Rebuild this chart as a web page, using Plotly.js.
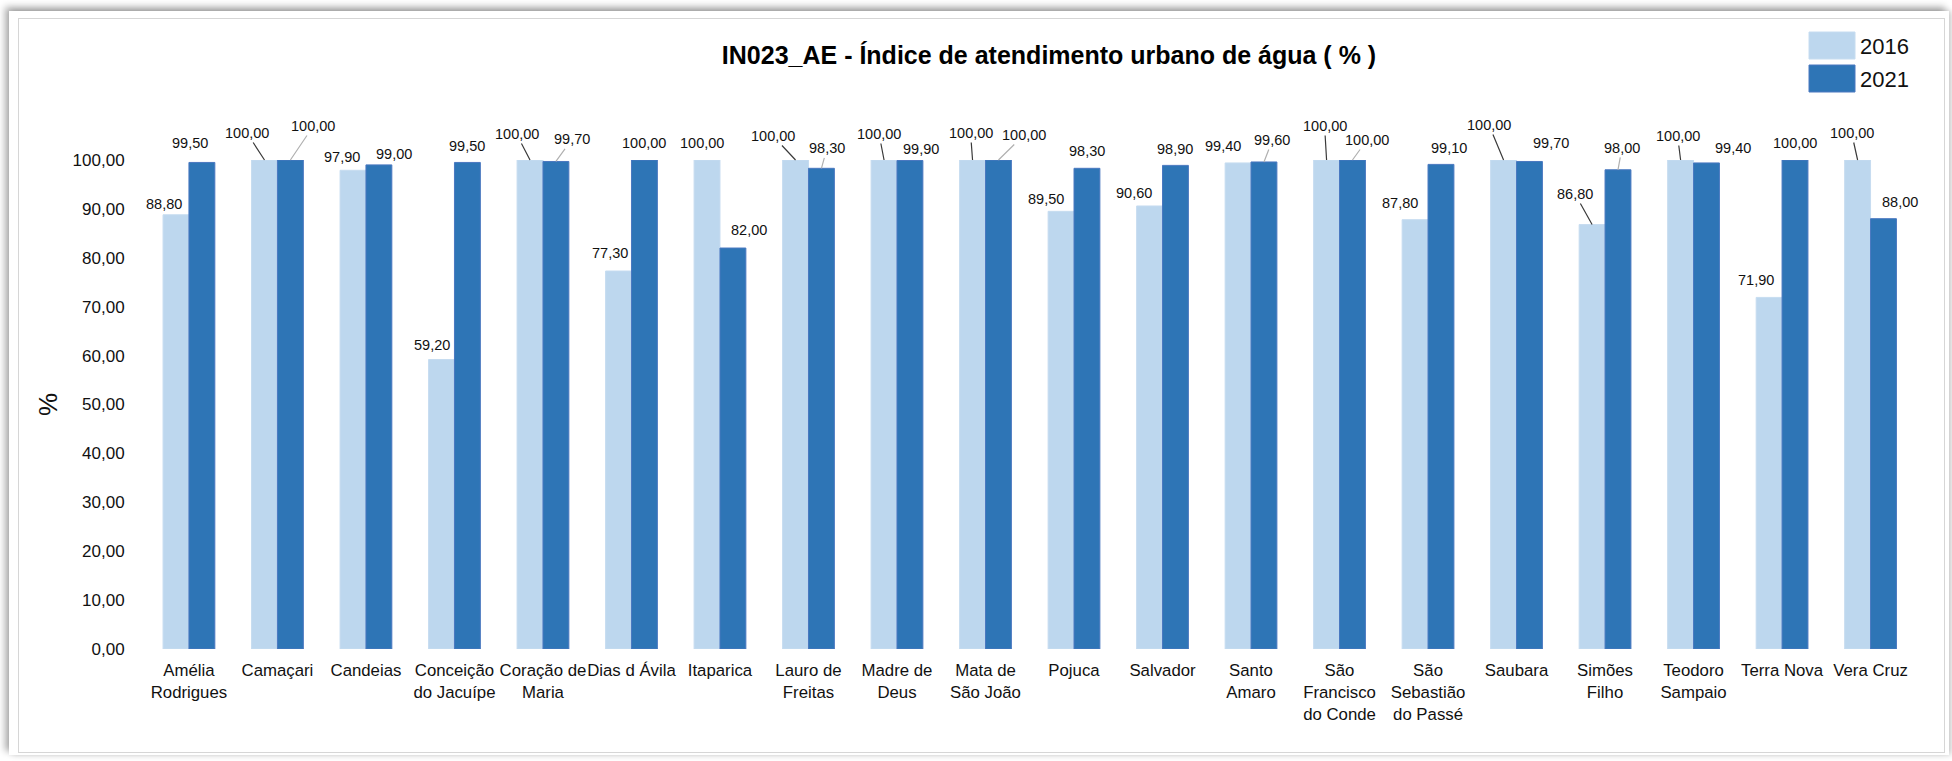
<!DOCTYPE html>
<html>
<head>
<meta charset="utf-8">
<script src="https://cdn.plot.ly/plotly-3.0.1.min.js"></script>
<style>
  html, body { margin: 0; padding: 0; background: #ffffff; width: 1952px; height: 761px; overflow: hidden; }
  #frame { position: absolute; left: 9px; top: 11px; width: 1940px; height: 744px; background: #ffffff;
           box-shadow: -4px -4px 7px rgba(0,0,0,0.32), 3px 0px 6px rgba(0,0,0,0.18); }
  #chart { position: absolute; left: 18px; top: 18px; width: 1925px; height: 733px; border: 1px solid #d6d6d6; background: #fff; }
</style>
</head>
<body>
<div id="frame"></div>
<div id="chart"></div>
<script>
// ---------- data ----------
const categories = [
  "Amélia<br>Rodrigues", "Camaçari", "Candeias", "Conceição<br>do Jacuípe", "Coração de<br>Maria",
  "Dias d Ávila", "Itaparica", "Lauro de<br>Freitas", "Madre de<br>Deus", "Mata de<br>São João",
  "Pojuca", "Salvador", "Santo<br>Amaro", "São<br>Francisco<br>do Conde", "São<br>Sebastião<br>do Passé",
  "Saubara", "Simões<br>Filho", "Teodoro<br>Sampaio", "Terra Nova", "Vera Cruz"
];
const values2016 = [88.8, 100, 97.9, 59.2, 100, 77.3, 100, 100, 100, 100, 89.5, 90.6, 99.4, 100, 87.8, 100, 86.8, 100, 71.9, 100];
const values2021 = [99.5, 100, 99.0, 99.5, 99.7, 100, 82.0, 98.3, 99.9, 100, 98.3, 98.9, 99.6, 100, 99.1, 99.7, 98.0, 99.4, 100, 88.0];
const seriesNames = ["2016", "2021"];
const yTickValues = [0, 10, 20, 30, 40, 50, 60, 70, 80, 90, 100];
const chartTitle = "IN023_AE - Índice de atendimento urbano de água ( % )";
const yTitle = "%";

// ---------- label placement (pixel offsets of each data label from its bar top) ----------
const lblDx2016 = [-12, -17.5, -11, -9.5, -13.5, -9, -5.5, -22.5, -5, -2, -15.5, -15.7, -15, -2, -15, -14.6, -17, -3, -13.6, -6];
const lblDy2016 = [-11, -27, -13, -14.5, -26, -18, -17, -24, -26, -27, -12, -13, -17, -34, -17, -35, -30.5, -24, -17, -27];
const lead2016  = [0, 1, 0, 0, 1, 0, 0, 1, 1, 1, 0, 0, 0, 1, 0, 1, 1, 1, 0, 1];
const lblDx2021 = [-12, 23, 15, 0, 16, 0, 16, 5.5, 11, 25.5, 0, 0, 8.5, 14.5, 8, 21.5, 4, 27, 0, 16.5];
const lblDy2021 = [-19, -34, -11, -16, -22, -17, -18, -20, -11, -25, -17.6, -16, -22, -20, -16, -18.5, -22, -15, -17, -17];
const lead2021  = [0, 1, 0, 0, 1, 0, 0, 1, 0, 1, 0, 0, 1, 1, 0, 0, 1, 0, 0, 0];

// ---------- styles ----------
const colors = ["#BDD7EE", "#2E75B6"];
const edgeColors = ["#c6dcf0", "#4a78c0"];
const leadColors = ["#3a3a3a", "#b0b0b0"];
const FONT = '"Liberation Sans", Arial, sans-serif';
const bargap = 0.415;
const W = 1925, H = 733;
const M = { l: 125, r: 24, t: 141, b: 103 };

const fmt = v => v.toFixed(2).replace(".", ",");

const traces = [values2016, values2021].map((vals, k) => ({
  type: "bar",
  name: seriesNames[k],
  x: categories,
  y: vals,
  marker: { color: colors[k], line: { color: edgeColors[k], width: 1 } },
  hoverinfo: "x+y",
  showlegend: false
}));

// data labels as annotations (so they can carry leader lines)
const annotations = [];
const barOffset = (1 - bargap) / 4;
[[values2016, lblDx2016, lblDy2016, lead2016, -1], [values2021, lblDx2021, lblDy2021, lead2021, 1]].forEach((s, k) => {
  const [vals, dxs, dys, leads, sign] = s;
  vals.forEach((v, i) => {
    annotations.push({
      x: i + sign * barOffset, y: v, xref: "x", yref: "y",
      text: fmt(v),
      showarrow: true, arrowhead: 0, standoff: 0, startstandoff: 0,
      arrowwidth: leads[i] ? 1.2 : 0.1,
      arrowcolor: leads[i] ? leadColors[k] : "rgba(0,0,0,0)",
      ax: dxs[i], ay: dys[i],
      font: { family: FONT, size: 14.5, color: "#111" }
    });
  });
});

// helpers for pixel -> paper (for the legend block)
const pw = W - M.l - M.r, ph = H - M.t - M.b;
const pxX = X => (X - 19 - M.l) / pw;
const pxY = Y => 1 - (Y - 19 - M.t) / ph;

// custom legend (large swatches as in the reference)
const shapes = [];
const legTop = [32, 65];
seriesNames.forEach((nm, k) => {
  shapes.push({
    type: "rect", xref: "paper", yref: "paper",
    x0: pxX(1809), x1: pxX(1855), y0: pxY(legTop[k]), y1: pxY(legTop[k] + 27),
    fillcolor: colors[k], line: { color: edgeColors[k], width: 1 }
  });
  annotations.push({
    xref: "paper", yref: "paper", x: pxX(1858), y: pxY(legTop[k] + 14),
    xanchor: "left", yanchor: "middle", showarrow: false,
    text: nm, font: { family: FONT, size: 22, color: "#111" }
  });
});

const layout = {
  width: W, height: H,
  margin: M,
  paper_bgcolor: "#ffffff", plot_bgcolor: "#ffffff",
  separators: ",.",
  barmode: "group",
  bargap: bargap, bargroupgap: 0,
  title: {
    text: "<b>" + chartTitle + "</b>",
    font: { family: FONT, size: 25, color: "#000" },
    xref: "container", yref: "container",
    x: (1049 - 19) / W, y: 1 - (55 - 19) / H, xanchor: "center", yanchor: "middle"
  },
  xaxis: {
    type: "category",
    showgrid: false, zeroline: false, showline: false,
    ticks: "outside", ticklen: 6, tickcolor: "rgba(0,0,0,0)",
    tickfont: { family: FONT, size: 16.8, color: "#111" },
    tickangle: 0, automargin: false
  },
  yaxis: {
    range: [0, 100],
    tickvals: yTickValues,
    tickformat: ".2f",
    showgrid: false, zeroline: false, showline: false,
    ticks: "outside", ticklen: 15, tickcolor: "rgba(0,0,0,0)",
    tickfont: { family: FONT, size: 17, color: "#111" },
    title: { text: yTitle, font: { family: FONT, size: 26, color: "#111" }, standoff: 7 },
    automargin: false
  },
  annotations: annotations,
  shapes: shapes,
  showlegend: false
};

Plotly.newPlot("chart", traces, layout, { displayModeBar: false, staticPlot: true });
</script>
</body>
</html>
